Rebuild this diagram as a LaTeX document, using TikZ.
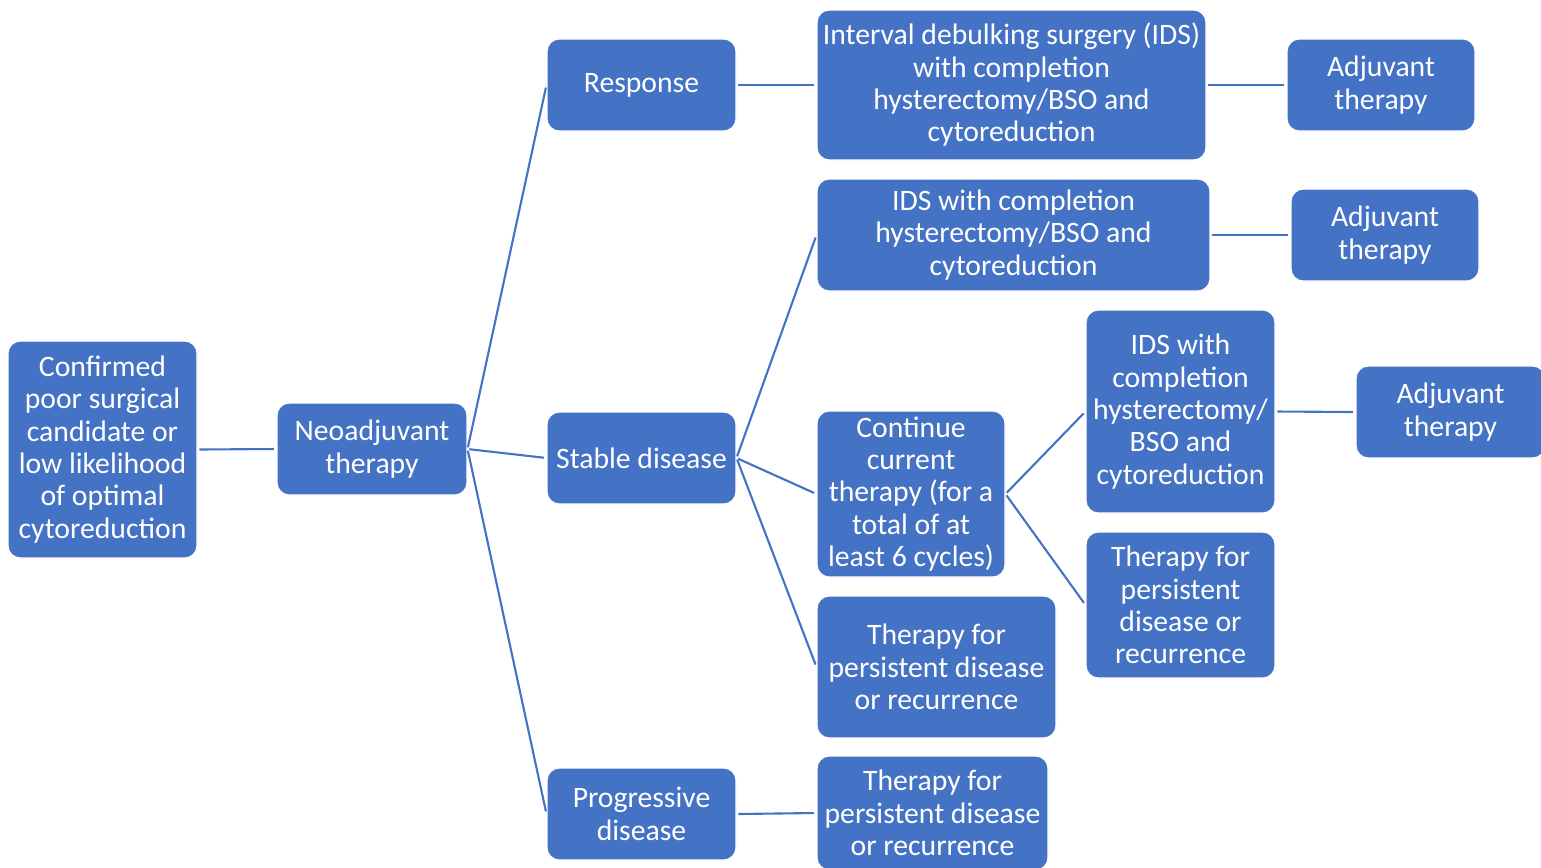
\documentclass[tikz,border=0pt]{standalone}
\usepackage{fontspec}
\setmainfont{Carlito}
\usetikzlibrary{positioning}

\definecolor{boxblue}{HTML}{4472C4}

\begin{document}
\begin{tikzpicture}[
        x=0.02cm, y=-0.02cm,
        box/.style={rectangle, draw=white, line width=0.6pt, rounded corners=0.25cm,
        fill=boxblue, text=white, align=center, inner sep=0pt,
        font=\fontsize{16.9}{18.4}\selectfont},
        sz/.style 2 args={minimum width=#1*0.02cm, minimum height=#2*0.02cm},
        link/.style={draw=boxblue, line width=1.2pt, shorten <=1pt, shorten >=1.5pt}
    ]
        \useasboundingbox (0,0) rectangle (1541,867);

% Root and first step
        \node[box, sz={189}{217}] (conf) at (102.5,449.5)
        {Confirmed\\ poor surgical\\ candidate or\\ low likelihood\\ of optimal\\ cytoreduction};
        \node[box, sz={190}{92}] (neo) at (372,449) {Neoadjuvant\\ therapy};

% Responses
        \node[box, sz={189}{92}] (resp) at (641.5,85) {Response};
        \node[box, sz={189}{92}] (stable) at (641.5,458) {Stable disease};
        \node[box, sz={189}{92}] (prog) at (641.5,814) {Progressive\\ disease};

% Second level
        \node[box, sz={389}{150}] (ids1) at (1011.5,85)
        {Interval debulking surgery (IDS)\\ with completion\\ hysterectomy/BSO and\\ cytoreduction};
        \node[box, sz={393}{112}] (ids2) at (1013.5,235)
        {IDS with completion\\ hysterectomy/BSO and\\ cytoreduction};
        \node[box, sz={188}{166}] (cont) at (911,494)
        {Continue\\ current\\ therapy (for a\\ total of at\\ least 6 cycles)};
        \node[box, sz={239}{142}] (tpd1) at (936.5,667)
        {Therapy for\\ persistent disease\\ or recurrence};
        \node[box, sz={231}{114}] (tpd3) at (932.5,813)
        {Therapy for\\ persistent disease\\ or recurrence};

% Third level
        \node[box, sz={189}{203}] (ids3) at (1180.5,411.5)
        {IDS with\\ completion\\ hysterectomy/\\ BSO and\\ cytoreduction};
        \node[box, sz={189}{146}] (tpd2) at (1180.5,605)
        {Therapy for\\ persistent\\ disease or\\ recurrence};

% Adjuvant therapy
        \node[box, sz={188}{92}] (adj1) at (1381,85) {Adjuvant\\ therapy};
        \node[box, sz={188}{92}] (adj2) at (1385,235) {Adjuvant\\ therapy};
        \node[box, sz={189}{92}] (adj3) at (1450.5,412) {Adjuvant\\ therapy};

% Connectors
        \draw[link] (conf.east) -- (neo.west);
        \draw[link] (neo.east) -- (resp.west);
        \draw[link] (neo.east) -- (stable.west);
        \draw[link] (neo.east) -- (prog.west);
        \draw[link] (resp.east) -- (ids1.west);
        \draw[link] (stable.east) -- (ids2.west);
        \draw[link] (stable.east) -- (cont.west);
        \draw[link] (stable.east) -- (tpd1.west);
        \draw[link] (prog.east) -- (tpd3.west);
        \draw[link] (cont.east) -- (ids3.west);
        \draw[link] (cont.east) -- (tpd2.west);
        \draw[link] (ids1.east) -- (adj1.west);
        \draw[link] (ids2.east) -- (adj2.west);
        \draw[link] (ids3.east) -- (adj3.west);

    \end{tikzpicture}
\end{document}
